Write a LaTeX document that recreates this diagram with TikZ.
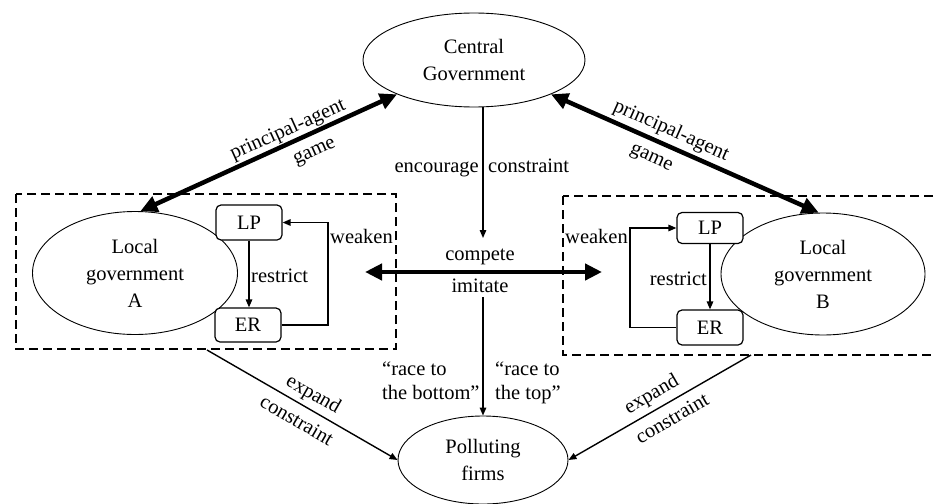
\documentclass[tikz,border=0pt]{standalone}
\usepackage{fontspec}
\setmainfont{Liberation Serif}
\usetikzlibrary{arrows.meta,shapes.geometric,calc}
\begin{document}
\begin{tikzpicture}[x=1pt,y=-1pt,
  txt/.style={font=\fontsize{20.5}{27}\selectfont, inner sep=0pt},
  ell/.style={txt, ellipse, draw, fill=white, line width=0.9pt, align=center},
  rbox/.style={txt, draw, fill=white, rounded corners=5pt, line width=1.2pt, minimum width=66pt},
  thinarr/.style={line width=1.4pt, -{Triangle[length=8pt,width=6.5pt]}},
  thickarr/.style={line width=4.5pt, {Triangle[length=17pt,width=16pt]}-{Triangle[length=17pt,width=16pt]}},
  dbox/.style={draw, line width=1.8pt, dash pattern=on 9pt off 5pt}]
\useasboundingbox (0,0) rectangle (936,503);
\fill[white] (0,0) rectangle (936,503);

% dashed groups
\draw[dbox] (16,194) rectangle (396,349);
\draw[dbox] (563,196) rectangle (960,355);

% ellipses
\node[ell, minimum width=222pt, minimum height=94pt] (cg) at (474,60) {Central\\Government};
\node[ell, minimum width=205pt, minimum height=123pt] (lga) at (135,273) {Local\\government\\A};
\node[ell, minimum width=204pt, minimum height=122pt] (lgb) at (823,274) {Local\\government\\B};
\node[ell, minimum width=170pt, minimum height=88pt] (pf) at (483,460) {Polluting\\firms};

% LP / ER boxes
\node[rbox, minimum height=35pt] (lpA) at (249,222.5) {LP};
\node[rbox, minimum height=34pt] (erA) at (248,325) {ER};
\node[rbox, minimum height=31pt] (lpB) at (710,228) {LP};
\node[rbox, minimum height=35pt] (erB) at (710,327.5) {ER};

\draw[thinarr] (lpA.south) -- (lpA.south |- erA.north);
\coordinate (wa) at (328,270);
\draw[thinarr] (erA.east) -| (wa) |- (lpA.east);
\draw[thinarr] (lpB.south) -- (lpB.south |- erB.north);
\coordinate (wb) at (630,278);
\draw[thinarr] (erB.west) -| (wb) |- (lpB.west);

\node[txt, anchor=base west] (weakA) at (330,243) {weaken};
\node[txt, anchor=base west] (restA) at (251,282) {restrict};
\node[txt, anchor=base east] (weakB) at (628,243) {weaken};
\node[txt, anchor=base east] (restB) at (707,285) {restrict};

% centre column
\coordinate (mid) at (483,272);
\coordinate (vt) at (483,238);
\draw[thinarr] (cg.south -| mid) -- (vt);
\node[txt, anchor=base east] (enc) at (479,172) {encourage};
\node[txt, anchor=base west] (con) at (488,172) {constraint};
\node[txt, anchor=base] (comp) at (480,260) {compete};
\node[txt, anchor=base] (imit) at (480,292) {imitate};
\coordinate (hl) at (365,272);
\coordinate (hr) at (602,272);
\draw[thickarr] (hl) -- (hr);
\coordinate (vb) at (483,297);
\draw[thinarr] (vb) -- (pf.north);

\node[txt, anchor=base west] (rb1) at (382,375) {“race to};
\node[txt, anchor=base west] (rb2) at (382,399) {the bottom”};
\node[txt, anchor=base west] (rt1) at (495,375) {“race to};
\node[txt, anchor=base west] (rt2) at (495,399) {the top”};

% principal-agent
\draw[thickarr] (lga.85) -- (cg.204);
\draw[thickarr] (cg.336) -- (lgb.94);
\node[txt, rotate=24.3] (pa1) at (288,130) {principal-agent};
\node[txt, rotate=24.3] (g1) at (315,153) {game};
\node[txt, rotate=-24] (pa2) at (671,131) {principal-agent};
\node[txt, rotate=-24] (g2) at (651,159) {game};

% expand / constraint
\coordinate (ea) at (207,350);
\coordinate (eb) at (751,355);
\draw[thinarr] (ea) -- (pf.west);
\draw[thinarr] (eb) -- (pf.east);
\node[txt, rotate=-30] (ex1) at (313,395) {expand};
\node[txt, rotate=-30] (c1) at (297,420) {constraint};
\node[txt, rotate=30] (ex2) at (652,395) {expand};
\node[txt, rotate=30] (c2) at (672,418) {constraint};
\end{tikzpicture}
\end{document}
